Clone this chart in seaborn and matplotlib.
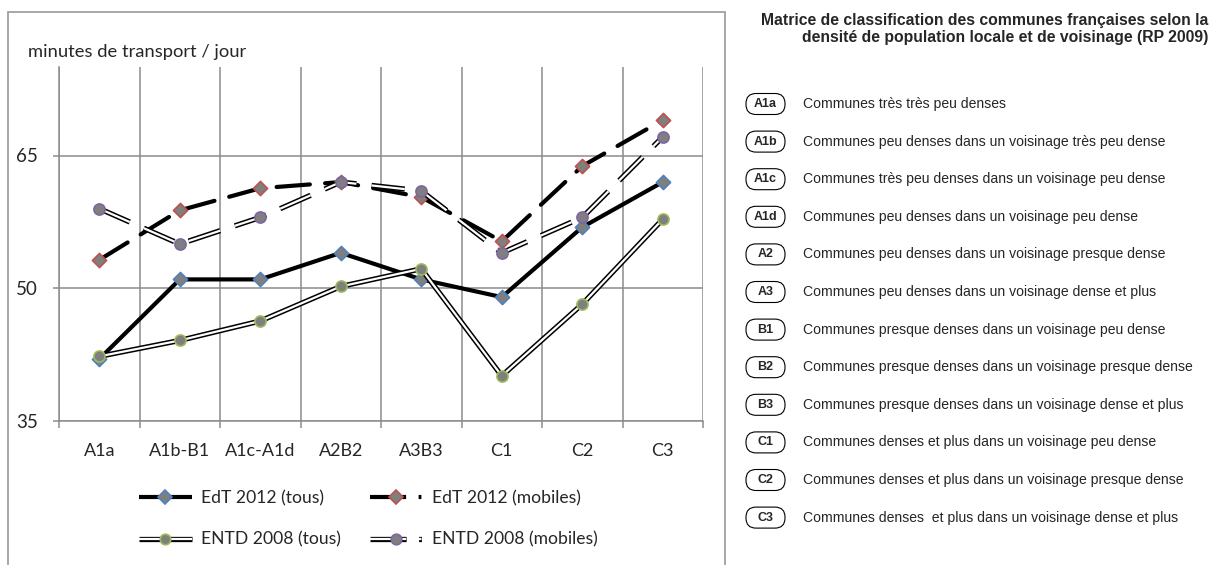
import numpy as np
import pandas as pd
import matplotlib
matplotlib.use('Agg')
import matplotlib.pyplot as plt
from matplotlib.lines import Line2D
from matplotlib.patches import FancyBboxPatch, Rectangle
from matplotlib.legend_handler import HandlerTuple
import seaborn as sns

# data
categories = ['A1a', 'A1b-B1', 'A1c-A1d', 'A2B2', 'A3B3', 'C1', 'C2', 'C3']
edt_tous = [42.0, 51.0, 51.0, 54.0, 51.0, 49.0, 56.9, 62.0]
edt_mobiles = [53.2, 58.8, 61.3, 62.0, 60.3, 55.3, 63.8, 69.0]
entd_tous = [42.3, 44.1, 46.3, 50.2, 52.2, 40.1, 48.2, 57.8]
entd_mobiles = [59.0, 55.0, 58.0, 62.0, 61.0, 54.0, 58.0, 67.1]
series_names = ['EdT 2012 (tous)', 'EdT 2012 (mobiles)', 'ENTD 2008 (tous)', 'ENTD 2008 (mobiles)']
y_ticks = [35, 50, 65]

codes = ['A1a', 'A1b', 'A1c', 'A1d', 'A2', 'A3', 'B1', 'B2', 'B3', 'C1', 'C2', 'C3']
descriptions = [
    'Communes très très peu denses',
    'Communes peu denses dans un voisinage très peu dense',
    'Communes très peu denses dans un voisinage peu dense',
    'Communes peu denses dans un voisinage peu dense',
    'Communes peu denses dans un voisinage presque dense',
    'Communes peu denses dans un voisinage dense et plus',
    'Communes presque denses dans un voisinage peu dense',
    'Communes presque denses dans un voisinage presque dense',
    'Communes presque denses dans un voisinage dense et plus',
    'Communes denses et plus dans un voisinage peu dense',
    'Communes denses et plus dans un voisinage presque dense',
    'Communes denses  et plus dans un voisinage dense et plus',
]
matrix_title = ('Matrice de classification des communes françaises selon la\n'
                'densité de population locale et de voisinage (RP 2009)')

df = pd.DataFrame({
    'pos': np.tile(np.arange(len(categories)), 4),
    'value': edt_tous + edt_mobiles + entd_tous + entd_mobiles,
    'serie': np.repeat(series_names, len(categories)),
})

sns.set_style('white')
plt.rcParams['font.family'] = ['Lato', 'DejaVu Sans']
plt.rcParams['lines.scale_dashes'] = False

fig = plt.figure(figsize=(12.13, 5.65), dpi=100)
ax = fig.add_axes([59 / 1213, 1 - 421 / 565, (703 - 59) / 1213, (421 - 67) / 565])

grey = '#8c8c8c'
fill = '#7f7f7f'
dash = (0, (24, 11))
# name -> (double line?, dashed?, marker, edge colour)
styles = {
    'EdT 2012 (tous)': (False, False, 'D', '#4f81bd'),
    'EdT 2012 (mobiles)': (False, True, 'D', '#c0504d'),
    'ENTD 2008 (tous)': (True, False, 'o', '#9bbb59'),
    'ENTD 2008 (mobiles)': (True, True, 'o', '#8064a2'),
}

handles = {}
for i, name in enumerate(series_names):
    double, dashed, mk, ec = styles[name]
    sub = df[df['serie'] == name]
    ls = dash if dashed else '-'
    z = 3 + i * 3
    if double:
        sns.lineplot(data=sub, x='pos', y='value', ax=ax, color='black', lw=3.8,
                     linestyle=ls, zorder=z, solid_capstyle='butt', dash_capstyle='butt')
        sns.lineplot(data=sub, x='pos', y='value', ax=ax, color='white', lw=1.6,
                     linestyle=ls, zorder=z + 0.5, solid_capstyle='butt', dash_capstyle='butt')
    else:
        sns.lineplot(data=sub, x='pos', y='value', ax=ax, color='black', lw=3.0,
                     linestyle=ls, zorder=z, dash_capstyle='round')
    ms = 7.2 if mk == 'D' else 8.0
    sns.scatterplot(data=sub, x='pos', y='value', ax=ax, marker=mk, s=ms ** 2,
                    color=fill, edgecolor=ec, linewidth=1.2, zorder=z + 1)

    # legend proxy
    leg_ls = (0, (26, 9, 2, 60)) if dashed else '-'
    parts = []
    if double:
        parts.append(Line2D([], [], color='black', lw=3.8, linestyle=leg_ls, solid_capstyle='butt', dash_capstyle='butt'))
        parts.append(Line2D([], [], color='white', lw=1.6, linestyle=leg_ls, solid_capstyle='butt', dash_capstyle='butt'))
    else:
        parts.append(Line2D([], [], color='black', lw=3.0, linestyle=leg_ls, solid_capstyle='butt', dash_capstyle='butt'))
    parts.append(Line2D([], [], linestyle='none', marker=mk, markersize=ms * 0.95,
                        markerfacecolor=fill, markeredgecolor=ec, markeredgewidth=1.2))
    handles[name] = tuple(parts)

ax.set_xlim(-0.5, len(categories) - 0.5)
ax.set_ylim(35, 75)
ax.set_yticks(y_ticks)
ax.set_xticks(np.arange(len(categories)))
ax.set_xticklabels(categories)
ax.set_xticks(np.arange(len(categories) + 1) - 0.5, minor=True)
ax.set_xlabel('')
ax.set_ylabel('')
ax.grid(False)
ax.yaxis.grid(True, color=grey, lw=1.1)
ax.xaxis.grid(True, which='minor', color=grey, lw=1.1)
for s in ['top', 'right']:
    ax.spines[s].set_visible(False)
for s in ['left', 'bottom']:
    ax.spines[s].set_color(grey)
    ax.spines[s].set_linewidth(1.1)
ax.tick_params(axis='x', which='major', length=0, pad=16, labelsize=13)
ax.tick_params(axis='x', which='minor', length=5, width=1.1, color=grey, bottom=True)
ax.tick_params(axis='y', length=4, width=1.1, color=grey, pad=11, labelsize=13.5, left=True)

fig.text(28 / 1213, 1 - 57 / 565, 'minutes de transport / jour', fontsize=13.2, va='baseline')

order = [series_names[0], series_names[2], series_names[1], series_names[3]]
fig.legend([handles[n] for n in order], order, ncol=2, loc='upper left',
           bbox_to_anchor=(139 / 1213, 1 - 490 / 565), frameon=False, fontsize=12.6,
           handlelength=3.0, handletextpad=0.55, columnspacing=1.65, labelspacing=1.45,
           borderpad=0, borderaxespad=0,
           handler_map={tuple: HandlerTuple(ndivide=1, pad=0)})

# chart frame
fig.patches.append(Rectangle((8 / 1213, -0.05), (725 - 8) / 1213, 1.05 - 12 / 565,
                             transform=fig.transFigure, fill=False, edgecolor='#a0a0a0', lw=1.3))

# classification key on the right, drawn in pixel coordinates
kx = fig.add_axes([0, 0, 1, 1])
kx.set_xlim(0, 1213)
kx.set_ylim(565, 0)
kx.axis('off')
kx.text(1208, 29, matrix_title, ha='right', va='center', fontsize=11.3, fontweight='bold',
        family='Liberation Sans', linespacing=1.1)
for j, (c, d) in enumerate(zip(codes, descriptions)):
    yc = 104 + j * 37.6
    kx.add_patch(FancyBboxPatch((746, yc - 10.5), 39, 21,
                                boxstyle='round,pad=0,rounding_size=10',
                                facecolor='white', edgecolor='black', lw=0.8))
    kx.text(765.5, yc, c, ha='center', va='center', fontsize=9, fontweight='bold',
            family='Liberation Sans')
    kx.text(803, yc, d, ha='left', va='center', fontsize=10.1, family='Liberation Sans')

fig.savefig('out.png', dpi=100)
